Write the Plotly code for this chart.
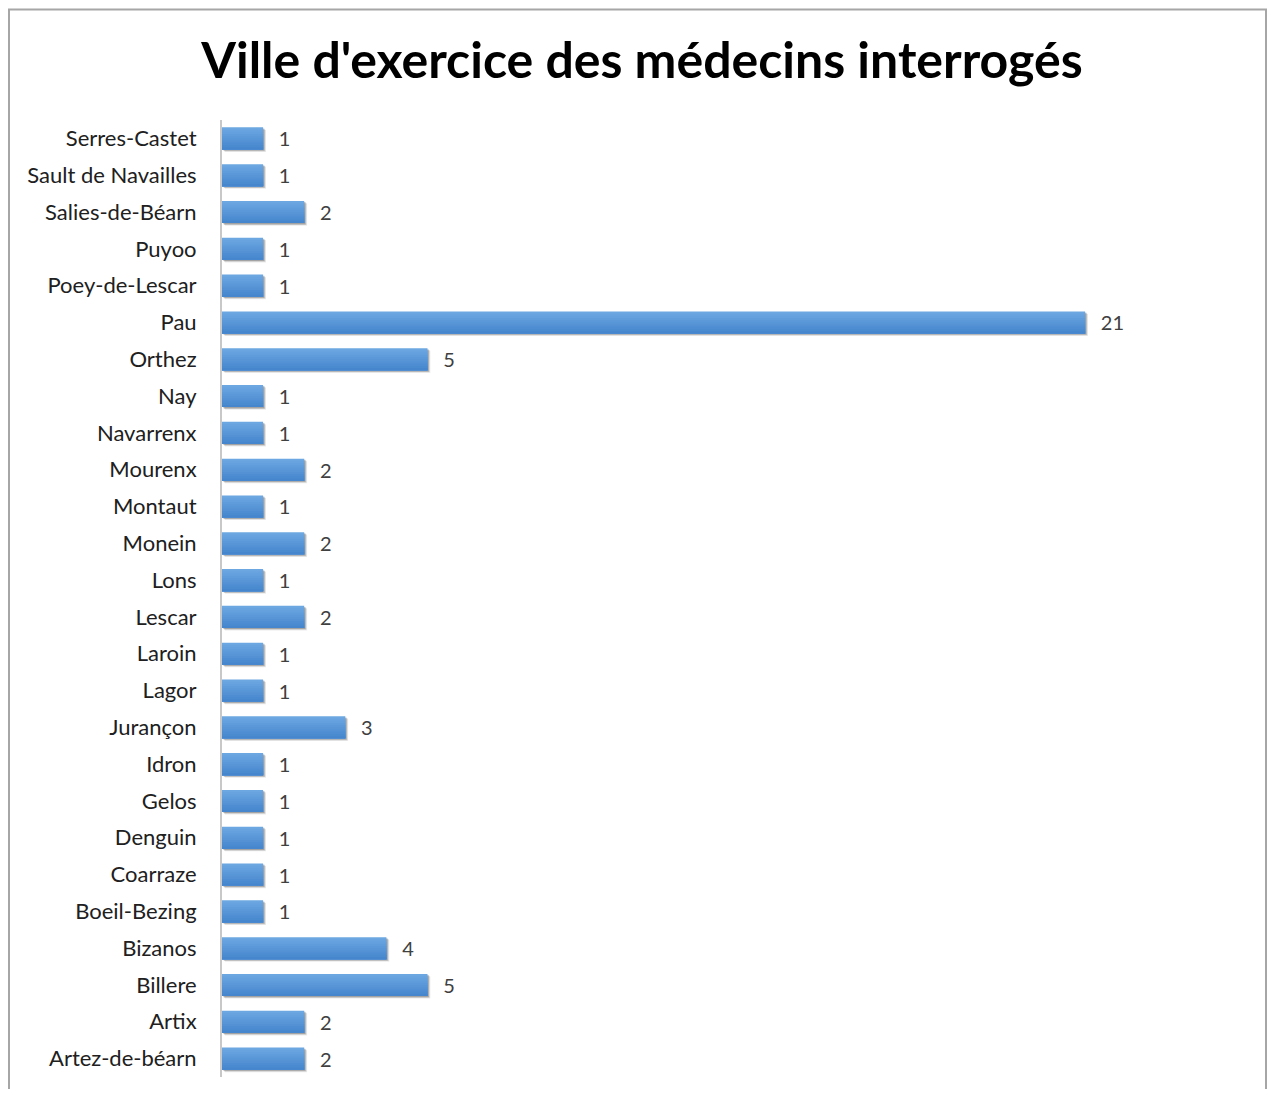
import plotly.graph_objects as go

cities = ["Serres-Castet", "Sault de Navailles", "Salies-de-Béarn", "Puyoo", "Poey-de-Lescar",
          "Pau", "Orthez", "Nay", "Navarrenx", "Mourenx", "Montaut", "Monein", "Lons", "Lescar",
          "Laroin", "Lagor", "Jurançon", "Idron", "Gelos", "Denguin", "Coarraze", "Boeil-Bezing",
          "Bizanos", "Billere", "Artix", "Artez-de-béarn"]
counts = [1, 1, 2, 1, 1, 21, 5, 1, 1, 2, 1, 2, 1, 2, 1, 1, 3, 1, 1, 1, 1, 1, 4, 5, 2, 2]

# page body has an 8px margin, so the figure is drawn 8px in from the top-left
OFF = 8
W, H = 1278 - OFF, 1097 - 2 * OFF
L = 222 - OFF
R = W - (1250 - OFF)
T = 120 - OFF
B = H - (1077 - OFF)
pw, ph = W - L - R, H - T - B

FONT = "Lato, Carlito, Calibri, sans-serif"
fig = go.Figure()
# soft shadow below/right of each bar
for k, a in enumerate([0.10, 0.18, 0.28]):
    fig.add_trace(go.Bar(
        y=cities, x=counts, orientation="h", width=0.6, offset=-0.3 + 0.07 - 0.02 * k,
        base=[0.07 - 0.02 * k] * len(counts),
        marker=dict(color=f"rgba(60,60,60,{a})", line=dict(width=0)),
        hoverinfo="skip", showlegend=False,
    ))
# main bars with vertical gradient (light top -> darker bottom)
top = (108, 167, 226)
bot = (70, 134, 205)
n = 10
for i in range(n):
    t = i / (n - 1)
    c = tuple(round(top[j] + (bot[j] - top[j]) * t) for j in range(3))
    fig.add_trace(go.Bar(
        y=cities, x=counts, orientation="h", width=0.6 * (n - i) / n,
        offset=-0.3 + 0.6 * i / n,
        marker=dict(color=f"rgb{c}", line=dict(width=0)),
        hoverinfo="skip", showlegend=False,
    ))
# value labels
fig.add_trace(go.Bar(
    y=cities, x=counts, orientation="h", width=0.6, offset=-0.3,
    marker=dict(color="rgba(0,0,0,0)", line=dict(width=0)),
    text=[str(v) for v in counts], textposition="outside", constraintext="none",
    textfont=dict(family=FONT, size=20, color="#404040"),
    texttemplate="  \u2009%{text}", cliponaxis=False,
    hoverinfo="skip", showlegend=False,
))

fig.update_layout(
    width=W, height=H,
    margin=dict(l=L, r=R, t=T, b=B),
    paper_bgcolor="white", plot_bgcolor="white",
    barmode="overlay",
    title=dict(text="<b>Ville d'exercice des médecins interrogés</b>",
               x=(642 - OFF) / W, xanchor="center", y=1 - (60 - OFF) / H, yanchor="middle",
               yref="container", xref="container",
               font=dict(family=FONT, size=50, color="black")),
    xaxis=dict(range=[0, pw / 41.1], visible=False, fixedrange=True),
    yaxis=dict(autorange="reversed", showline=True, linecolor="#c8c8c8", linewidth=2,
               ticks="", ticklabelstandoff=19, showgrid=False, zeroline=False,
               tickfont=dict(family=FONT, size=22, color="#202020")),
    shapes=[dict(type="rect", xref="paper", yref="paper",
                 x0=(9 - 222) / pw, x1=(1266 - 222) / pw,
                 y0=(1077 - 1105) / ph, y1=(1077 - 9.5) / ph,
                 line=dict(color="#a6a6a6", width=2), layer="below")],
)

fig.write_html("out.html")
